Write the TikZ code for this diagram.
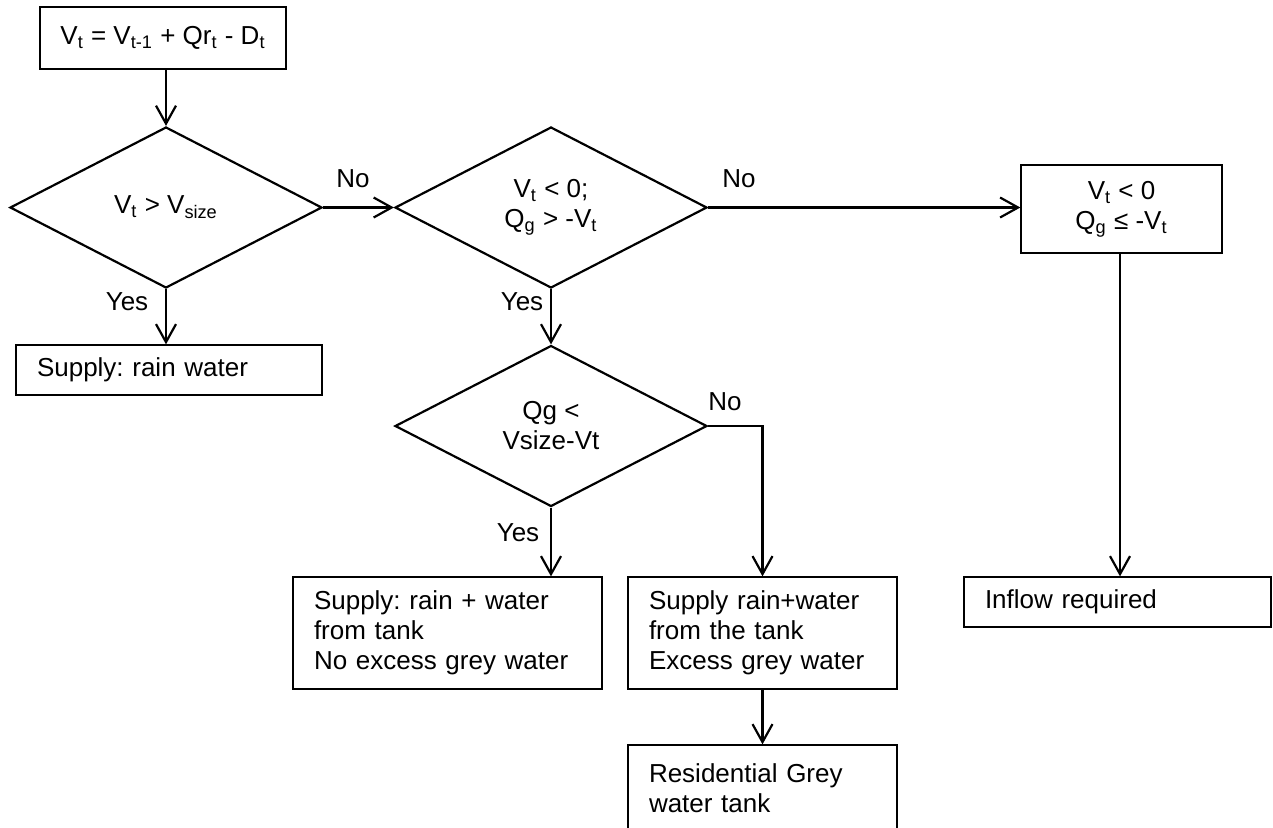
\documentclass[tikz,border=0pt]{standalone}
\usepackage{fontspec}
\setmainfont{Liberation Sans}
\usetikzlibrary{shapes.geometric,arrows.meta}
\frenchspacing
\begin{document}
\begin{tikzpicture}[x=0.5pt,y=-0.5pt,
  every node/.style={font=\fontsize{13pt}{15pt}\selectfont\frenchspacing},
  box/.style={draw,line width=0.65pt,rectangle,inner sep=0pt,align=center},
  lbox/.style={box,align=left,inner xsep=10.5pt},
  dec/.style={draw,line width=1.1pt,diamond,minimum width=156pt,minimum height=80.5pt,inner sep=0pt,align=center},
  lbl/.style={inner sep=0pt},
  arr/.style={line width=1.1pt,-{Straight Barb[length=9pt,width=10pt]}},
  conn/.style={line width=1pt}]
\useasboundingbox (0,0) rectangle (1273,827);

\node[box,minimum width=123pt,minimum height=31pt] (top) at (163,38)
  {V\textsubscript{t} = V\textsubscript{t-1} + Qr\textsubscript{t} - D\textsubscript{t}};
\node[dec] (d1) at (166,207.5) {\raisebox{-2pt}{V\textsubscript{t} > V\textsubscript{size}}};
\node[lbox,minimum height=25pt,text width=132pt] (sr) at (169,370) {\raisebox{-1.5pt}{Supply: rain water}};
\node[dec] (d2) at (551,207.5) {V\textsubscript{t} < 0;\\Q\textsubscript{g} > -V\textsubscript{t}};
\node[box,minimum width=100.5pt,minimum height=44pt] (b3) at (1121.5,209)
  {V\textsubscript{t} < 0\\Q\textsubscript{g} ≤ -V\textsubscript{t}};
\node[dec] (d3) at (551,426) {Qg <\\Vsize-Vt};
\node[lbox,minimum height=56pt,text width=133.5pt] (sA) at (447.5,633)
  {\raisebox{-1.5pt}{Supply: rain + water}\\\raisebox{-1.5pt}{from tank}\\\raisebox{-1.5pt}{No excess grey water}};
\node[lbox,minimum height=56pt,text width=113.5pt] (sB) at (762.5,633)
  {\raisebox{-1.5pt}{Supply rain+water}\\\raisebox{-1.5pt}{from the tank}\\\raisebox{-1.5pt}{Excess grey water}};
\node[lbox,minimum height=43pt,text width=113.5pt] (res) at (762.5,788)
  {\raisebox{-2pt}{Residential Grey}\\\raisebox{-2pt}{water tank}};
\node[lbox,minimum height=25pt,text width=132.5pt] (inf) at (1117.5,602) {\raisebox{-1.5pt}{Inflow required}};

\node[lbl] (no1) at (353,179) {No};
\node[lbl] (yes1) at (127,302) {Yes};
\node[lbl] (no2) at (739,179) {No};
\node[lbl] (yes2) at (522,302) {Yes};
\node[lbl] (no3) at (725,402) {No};
\node[lbl] (yes3) at (518,533) {Yes};

\draw[arr] (d1.north |- top.south) -- (d1.north);
\draw[arr] (d1.south) -- (d1.south |- sr.north);
\draw[arr] (d1.east) -- (d2.west);
\draw[arr] (d2.east) -- (d2.east -| b3.west);
\draw[arr] (b3.south -| 1120,0) -- (1120,0 |- inf.north);
\draw[arr] (d2.south) -- (d3.north);
\draw[arr] (d3.south) -- (d3.south |- sA.north);
\draw[arr] (d3.east) -| (sB.north);
\draw[arr] (sB.south) -- (res.north);
\end{tikzpicture}
\end{document}
